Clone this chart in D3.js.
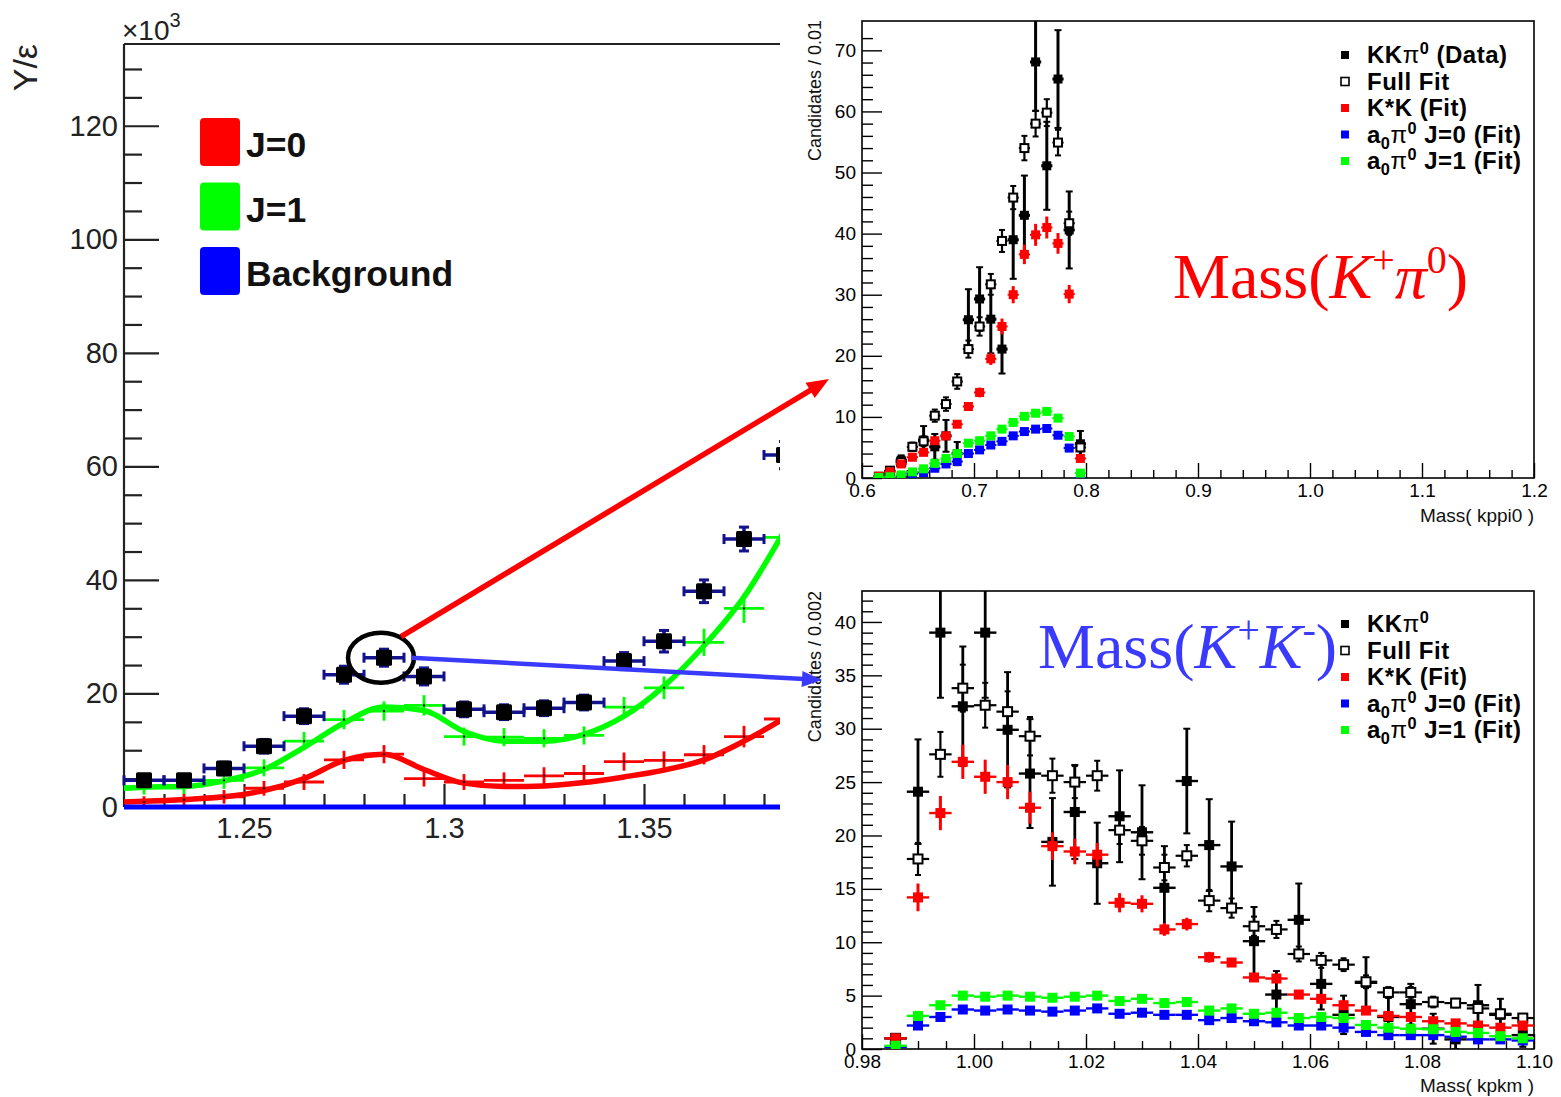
<!DOCTYPE html>
<html><head><meta charset="utf-8">
<script src="https://cdn.jsdelivr.net/npm/d3@7"></script>
<style>
body{margin:0;background:#fff}
svg{display:block}
text{font-family:"Liberation Sans",Arial,Helvetica,sans-serif}
</style>
</head><body>
<svg id="c" width="1561" height="1097"></svg>
<script>
// ---------------- Left panel: yield / efficiency vs mass ----------------
const massBins   = [1.225,1.235,1.245,1.255,1.265,1.275,1.285,1.295,1.305,1.315,1.325,1.335,1.345,1.355,1.365,1.375,1.385];
const yieldData  = [4.7,4.7,6.8,10.7,16.0,23.3,26.3,23.0,17.2,16.7,17.4,18.4,25.7,29.2,38.0,47.2,62.0];
const yieldErr   = [1.0,1.0,1.1,1.2,1.3,1.5,1.5,1.5,1.3,1.3,1.3,1.3,1.5,1.9,2.0,2.1,2.4];
const j0Points   = [0.9,1.3,1.8,3.3,4.4,8.3,9.3,5.0,4.4,4.7,5.5,5.9,8.0,8.2,9.2,12.4,15.5];
const j0Err      = [1.0,1.1,1.2,1.3,1.4,1.6,1.6,1.4,1.4,1.4,1.5,1.5,1.6,1.6,1.7,1.9,2.1];
const j1Points   = [3.6,3.7,4.7,6.9,11.6,15.4,16.9,17.9,12.4,12.3,12.1,12.6,17.6,21.0,29.0,35.0,47.5];
const j1Err      = [1.4,1.4,1.5,1.5,1.6,1.7,1.7,1.8,1.6,1.6,1.6,1.6,1.8,2.0,2.4,2.6,3.0];
const curveMass  = [1.22,1.225,1.235,1.245,1.255,1.265,1.275,1.285,1.295,1.305,1.315,1.325,1.335,1.345,1.355,1.365,1.375,1.385];
const j0Curve    = [0.9,1.0,1.3,1.8,2.9,5.0,8.2,9.3,6.6,4.2,3.6,3.7,4.3,5.3,6.5,8.3,11.6,15.6];
const j1Curve    = [3.3,3.5,3.6,4.6,6.6,10.5,14.8,17.6,17.0,13.3,11.6,11.6,12.8,16.0,21.3,28.4,37.0,48.5];
const bgCurve    = [0,0];
const bgMass     = [1.22,1.40];
const leftYTicks = [0,20,40,60,80,100,120];
const leftXTicks = [1.25,1.3,1.35];
const leftXTickLabels = ["1.25","1.3","1.35"];
const leftLegend = ["J=0","J=1","Background"];
const leftLegendColors = ["#ff0000","#00ff00","#0000ff"];
const highlightBin = 6; // circled point

// ---------------- Top right: Mass(K+ pi0) ----------------
const kpiBins   = [0.615,0.625,0.635,0.645,0.655,0.665,0.675,0.685,0.695,0.705,0.715,0.725,0.735,0.745,0.755,0.765,0.775,0.785,0.795];
const kpiData   = [null,null,2.9,null,6.2,5.1,6.9,4.0,25.9,29.3,26.0,21.1,39.0,43.0,68.1,51.1,65.3,40.6,5.6];
const kpiDataErr= [0,0,0.8,0,2.3,2.1,2.6,1.9,5.0,5.2,5.6,4.0,6.4,6.5,8.0,7.2,8.0,6.3,2.1];
const kpiFull   = [0.2,1.2,2.6,5.1,6.0,10.2,12.1,15.8,21.1,24.8,31.7,38.8,45.9,54.0,58.0,59.8,54.9,41.7,5.0];
const kpiFullErr= [0.1,0.3,0.5,0.7,0.8,1.0,1.1,1.2,1.4,1.5,1.7,1.8,1.9,2.0,2.1,2.2,2.1,1.9,0.6];
const kpiKstar  = [0.3,1.0,2.3,3.4,4.2,6.1,6.9,8.8,11.7,14.0,19.5,24.8,30.0,36.6,39.8,41.0,38.4,30.1,3.2];
const kpiKstarErr=[0.1,0.2,0.3,0.4,0.4,0.5,0.6,0.6,0.7,0.8,1.0,1.3,1.4,1.6,1.8,1.8,1.7,1.5,0.4];
const kpiA0J0   = [0.0,0.0,0.3,0.7,0.9,1.6,2.3,2.7,4.0,4.6,5.4,6.0,6.9,7.6,8.0,8.1,7.0,4.9,0.0];
const kpiA0J1   = [0.1,0.2,0.5,1.0,1.5,2.4,3.2,4.0,5.7,6.1,6.9,8.0,9.1,10.1,10.6,10.9,9.8,6.8,0.8];
const kpiYTicks = [0,10,20,30,40,50,60,70];
const kpiXTicks = [0.6,0.7,0.8,0.9,1.0,1.1,1.2];
const kpiXTickLabels = ["0.6","0.7","0.8","0.9","1.0","1.1","1.2"];

// ---------------- Bottom right: Mass(K+ K-) ----------------
const kkBins    = [0.986,0.990,0.994,0.998,1.002,1.006,1.010,1.014,1.018,1.022,1.026,1.030,1.034,1.038,1.042,1.046,1.050,1.054,1.058,1.062,1.066,1.070,1.074,1.078,1.082,1.086,1.090,1.094,1.098];
const kkData    = [1.0,24.1,39.0,32.1,39.0,29.9,25.8,19.4,22.2,17.4,21.8,20.3,15.1,25.1,19.1,17.1,10.1,5.1,12.1,6.1,3.2,6.2,3.0,4.2,1.9,0.9,4.1,3.2,1.3];
const kkDataErr = [0.4,4.9,6.1,5.6,6.1,5.4,5.1,4.1,4.4,3.8,4.3,4.4,3.9,4.9,4.3,4.2,3.2,2.2,3.4,2.4,1.8,2.4,1.8,1.9,1.4,0.9,1.9,1.5,1.1];
const kkFull    = [1.0,17.8,27.6,33.8,32.2,31.6,29.3,25.6,25.0,25.6,20.5,19.5,17.0,18.1,13.9,13.2,11.5,11.2,8.9,8.3,7.9,6.3,5.3,5.3,4.4,4.3,3.8,3.3,2.9];
const kkFullErr = [0.3,1.5,2.1,2.2,2.1,1.9,1.8,1.6,1.5,1.4,1.3,1.3,1.2,1.0,1.0,0.9,0.9,0.8,0.7,0.7,0.6,0.6,0.5,0.5,0.5,0.4,0.4,0.4,0.3];
const kkKstar   = [1.0,14.2,22.1,26.9,25.5,25.0,22.6,19.0,18.5,18.2,13.7,13.6,11.2,11.7,8.6,8.1,6.7,6.6,5.1,4.7,4.1,3.6,3.1,3.0,2.6,2.4,2.2,2.0,2.2];
const kkKstarErr= [0.3,1.3,1.6,1.6,1.6,1.6,1.5,1.3,1.2,1.1,0.9,0.8,0.6,0.6,0.5,0.4,0.4,0.4,0.3,0.3,0.3,0.3,0.2,0.2,0.2,0.2,0.2,0.2,0.2];
const kkA0J0    = [0.2,2.2,3.0,3.7,3.6,3.7,3.6,3.5,3.6,3.8,3.3,3.4,3.2,3.2,2.7,2.9,2.6,2.5,2.2,2.2,2.0,1.6,1.3,1.3,1.3,1.15,0.9,0.9,0.8];
const kkA0J1    = [0.3,3.1,4.1,5.0,4.9,5.0,4.9,4.8,4.9,5.0,4.5,4.7,4.3,4.4,3.6,3.8,3.3,3.4,2.9,3.0,2.9,2.25,2.0,1.9,1.85,1.6,1.5,1.2,1.0];
const kkYTicks  = [0,5,10,15,20,25,30,35,40];
const kkXTicks  = [0.98,1.00,1.02,1.04,1.06,1.08,1.10];
const kkXTickLabels = ["0.98","1.00","1.02","1.04","1.06","1.08","1.10"];

const svg = d3.select("#c");
const defs = svg.append("defs");

// ======================= LEFT PANEL =======================
const xL = d3.scaleLinear().domain([1.22, 1.40]).range([124, 844]);
const yL = d3.scaleLinear().domain([0, 134.4]).range([807, 44]);
const leftRight = 780;
defs.append("clipPath").attr("id","clipL").append("rect")
  .attr("x",0).attr("y",0).attr("width",leftRight).attr("height",1097);
const gL = svg.append("g").attr("clip-path","url(#clipL)");
const axisCol = "#222";

// y axis (ticks point into the frame)
const yMinorL = d3.range(0,135,5).filter(v => v % 20 !== 0);
gL.append("g").attr("transform","translate(124,0)")
  .call(d3.axisLeft(yL).tickValues(yMinorL).tickSize(-18).tickFormat(""))
  .call(g=>g.select(".domain").remove());
gL.append("g").attr("transform","translate(124,0)")
  .call(d3.axisLeft(yL).tickValues(leftYTicks).tickSize(-35).tickPadding(6).tickFormat(d3.format("d")))
  .call(g=>g.select(".domain").remove());
// x axis
const xMinorL = d3.range(1.23,1.40,0.01).filter(v => Math.abs(v*20 - Math.round(v*20)) > 1e-6);
gL.append("g").attr("transform","translate(0,807)")
  .call(d3.axisBottom(xL).tickValues(xMinorL).tickSize(-13).tickFormat(""))
  .call(g=>g.select(".domain").remove());
gL.append("g").attr("transform","translate(0,807)")
  .call(d3.axisBottom(xL).tickValues(leftXTicks).tickSize(-23).tickPadding(10).tickFormat((d,i)=>leftXTickLabels[i]))
  .call(g=>g.select(".domain").remove());
gL.selectAll(".tick line").attr("stroke",axisCol).attr("stroke-width",2.2);
gL.selectAll(".tick text").attr("fill",axisCol).attr("font-size",29);
// frame: left + top
gL.append("line").attr("x1",124).attr("x2",124).attr("y1",44).attr("y2",807).attr("stroke",axisCol).attr("stroke-width",2.2);
gL.append("line").attr("x1",124).attr("x2",xL.range()[1]).attr("y1",44).attr("y2",44).attr("stroke",axisCol).attr("stroke-width",2.2);

// fit curves with cross markers
const lineL = d3.line().x(d=>xL(d[0])).y(d=>yL(d[1])).curve(d3.curveMonotoneX);
function crossSeries(vals, errs, color){
  const g = gL.append("g").attr("stroke",color).attr("stroke-width",2.8);
  massBins.forEach((m,i)=>{
    g.append("line").attr("x1",xL(m-0.005)).attr("x2",xL(m+0.005)).attr("y1",yL(vals[i])).attr("y2",yL(vals[i]));
    g.append("line").attr("x1",xL(m)).attr("x2",xL(m)).attr("y1",yL(vals[i]-errs[i])).attr("y2",yL(vals[i]+errs[i]));
  });
  gL.append("g").selectAll("rect").data(massBins).join("rect")
    .attr("x",(m)=>xL(m)-1).attr("y",(m,i)=>yL(vals[i])-1).attr("width",2).attr("height",2).attr("fill","#000");
}
gL.append("path").datum(curveMass.map((m,i)=>[m,j0Curve[i]])).attr("d",lineL)
  .attr("fill","none").attr("stroke","#ff0000").attr("stroke-width",5.5);
crossSeries(j0Points, j0Err, "#ff0000");
gL.append("path").datum(curveMass.map((m,i)=>[m,j1Curve[i]])).attr("d",lineL)
  .attr("fill","none").attr("stroke","#00ff00").attr("stroke-width",5.5);
crossSeries(j1Points, j1Err, "#00ff00");
gL.append("path").datum(bgMass.map((m,i)=>[m,bgCurve[i]])).attr("d",d3.line().x(d=>xL(d[0])).y(d=>yL(d[1])))
  .attr("stroke","#0000ff").attr("stroke-width",5);

// measured yields
const navy = "#12128a";
const gD = gL.append("g");
massBins.forEach((m,i)=>{
  const cx = xL(m), cy = yL(yieldData[i]);
  const x0 = xL(m-0.005), x1 = xL(m+0.005);
  const yt = yL(yieldData[i]+yieldErr[i]), yb = yL(yieldData[i]-yieldErr[i]);
  gD.append("line").attr("x1",x0).attr("x2",x1).attr("y1",cy).attr("y2",cy).attr("stroke",navy).attr("stroke-width",3.5);
  gD.append("line").attr("x1",x0).attr("x2",x0).attr("y1",cy-5).attr("y2",cy+5).attr("stroke",navy).attr("stroke-width",3);
  gD.append("line").attr("x1",x1).attr("x2",x1).attr("y1",cy-5).attr("y2",cy+5).attr("stroke",navy).attr("stroke-width",3);
  gD.append("line").attr("x1",cx).attr("x2",cx).attr("y1",yt).attr("y2",yb).attr("stroke",navy).attr("stroke-width",3.5);
  gD.append("line").attr("x1",cx-5).attr("x2",cx+5).attr("y1",yt).attr("y2",yt).attr("stroke",navy).attr("stroke-width",3);
  gD.append("line").attr("x1",cx-5).attr("x2",cx+5).attr("y1",yb).attr("y2",yb).attr("stroke",navy).attr("stroke-width",3);
  gD.append("rect").attr("x",cx-8).attr("y",cy-8).attr("width",16).attr("height",16).attr("fill","#000").attr("rx",1.5);
});

// axis title and exponent
svg.append("text").attr("transform","translate(37,44) rotate(-90)").attr("text-anchor","end")
  .attr("font-size",34).attr("fill",axisCol).text("Y/ε");
const expT = svg.append("text").attr("x",122).attr("y",40).attr("font-size",28).attr("fill",axisCol);
expT.append("tspan").text("×10");
expT.append("tspan").attr("dy",-13).attr("font-size",20).text("3");

// legend
leftLegend.forEach((lab,i)=>{
  const y0 = 118 + i*64.5;
  svg.append("rect").attr("x",200).attr("y",y0).attr("width",40).attr("height",48).attr("rx",4)
    .attr("fill",leftLegendColors[i]);
  svg.append("text").attr("x",246).attr("y",y0+39).attr("font-size",35.5).attr("font-weight","bold")
    .attr("fill","#111").text(lab);
});

// ======================= RIGHT PANELS =======================
function panel(cfg){
  const {x, y, id, yMinor, xMinor, yTicks, xTicks, xLabels, yTitle, xTitle, xTitleY, yTitleTop} = cfg;
  const [l,r] = x.range(); const [b,t] = y.range();
  defs.append("clipPath").attr("id",id).append("rect").attr("x",l).attr("y",t).attr("width",r-l).attr("height",b-t);
  const g = svg.append("g");
  g.append("g").attr("transform",`translate(${l},0)`)
    .call(d3.axisLeft(y).tickValues(yMinor).tickSize(-11).tickFormat(""));
  g.append("g").attr("transform",`translate(${l},0)`)
    .call(d3.axisLeft(y).tickValues(yTicks).tickSize(-20).tickPadding(6).tickFormat(d3.format("d")));
  g.append("g").attr("transform",`translate(0,${b})`)
    .call(d3.axisBottom(x).tickValues(xMinor).tickSize(-8).tickFormat(""));
  g.append("g").attr("transform",`translate(0,${b})`)
    .call(d3.axisBottom(x).tickValues(xTicks).tickSize(-15).tickPadding(6).tickFormat((d,i)=>xLabels[i]));
  g.selectAll(".domain").remove();
  g.selectAll(".tick line").attr("stroke","#000").attr("stroke-width",1.4);
  g.selectAll(".tick text").attr("fill","#000").attr("font-size",19);
  g.append("rect").attr("x",l).attr("y",t).attr("width",r-l).attr("height",b-t)
    .attr("fill","none").attr("stroke","#000").attr("stroke-width",1.6);
  g.append("text").attr("transform",`translate(821,${yTitleTop}) rotate(-90)`).attr("text-anchor","end")
    .attr("font-size",18).attr("fill","#111").text(yTitle);
  g.append("text").attr("x",r).attr("y",xTitleY).attr("text-anchor","end")
    .attr("font-size",19).attr("fill","#111").text(xTitle);
  return svg.append("g").attr("clip-path",`url(#${id})`);
}

function points(g, x, y, bins, vals, errs, half, st){
  const pts = bins.map((c,i)=>({c, v: vals[i], e: errs ? errs[i] : 0})).filter(d=>d.v!=null);
  const s = g.append("g");
  s.selectAll("line.h").data(pts).join("line").attr("class","h")
    .attr("x1",d=>x(d.c-half)).attr("x2",d=>x(d.c+half)).attr("y1",d=>y(d.v)).attr("y2",d=>y(d.v))
    .attr("stroke",st.color).attr("stroke-width",st.hw);
  const ve = pts.filter(d=>d.e>0);
  s.selectAll("line.v").data(ve).join("line").attr("class","v")
    .attr("x1",d=>x(d.c)).attr("x2",d=>x(d.c)).attr("y1",d=>y(d.v+d.e)).attr("y2",d=>y(Math.max(0,d.v-d.e)))
    .attr("stroke",st.color).attr("stroke-width",st.vw);
  if (st.cap){
    ["top","bot"].forEach(k=>{
      s.selectAll("line.c"+k).data(ve).join("line").attr("class","c"+k)
        .attr("x1",d=>x(d.c)-st.cap).attr("x2",d=>x(d.c)+st.cap)
        .attr("y1",d=>y(k==="top"?d.v+d.e:Math.max(0,d.v-d.e))).attr("y2",d=>y(k==="top"?d.v+d.e:Math.max(0,d.v-d.e)))
        .attr("stroke",st.color).attr("stroke-width",2);
    });
  }
  s.selectAll("rect").data(pts).join("rect")
    .attr("x",d=>x(d.c)-st.size/2).attr("y",d=>y(d.v)-st.size/2)
    .attr("width",st.size).attr("height",st.size)
    .attr("fill",st.open ? "#fff" : st.color)
    .attr("stroke",st.open ? st.color : "none").attr("stroke-width",st.open ? 2 : 0);
}

// ---- top right
const xT = d3.scaleLinear().domain([0.6,1.2]).range([862,1534]);
const yT = d3.scaleLinear().domain([0,74.8]).range([478,21]);
const gT = panel({x:xT, y:yT, id:"clipT",
  yMinor:d3.range(2,74,2).filter(v=>v%10!==0), xMinor:d3.range(0.62,1.2,0.02).filter(v=>Math.abs(v*10-Math.round(v*10))>1e-6),
  yTicks:kpiYTicks, xTicks:kpiXTicks, xLabels:kpiXTickLabels,
  yTitle:"Candidates / 0.01", xTitle:"Mass( kppi0 )", xTitleY:522, yTitleTop:20});
points(gT, xT, yT, kpiBins, kpiData, kpiDataErr, 0.005, {color:"#000", hw:3, vw:3, cap:3.5, size:9});
points(gT, xT, yT, kpiBins, kpiFull, kpiFullErr, 0.005, {color:"#000", hw:2, vw:2.2, cap:3, size:8, open:true});
points(gT, xT, yT, kpiBins, kpiKstar, kpiKstarErr, 0.005, {color:"#ff0000", hw:2, vw:3, size:9});
points(gT, xT, yT, kpiBins, kpiA0J0, null, 0.005, {color:"#0000ff", hw:2, vw:2, size:9});
points(gT, xT, yT, kpiBins, kpiA0J1, null, 0.005, {color:"#00ff00", hw:2, vw:2, size:9});

// ---- bottom right
const xB = d3.scaleLinear().domain([0.98,1.10]).range([862,1534]);
const yB = d3.scaleLinear().domain([0,42.9]).range([1049,591]);
const gB = panel({x:xB, y:yB, id:"clipB",
  yMinor:d3.range(1,43,1).filter(v=>v%5!==0), xMinor:d3.range(0.985,1.10,0.005).filter(v=>Math.abs(v*50-Math.round(v*50))>1e-6),
  yTicks:kkYTicks, xTicks:kkXTicks, xLabels:kkXTickLabels,
  yTitle:"Candidates / 0.002", xTitle:"Mass( kpkm )", xTitleY:1092, yTitleTop:591});
points(gB, xB, yB, kkBins, kkData, kkDataErr, 0.002, {color:"#000", hw:2.4, vw:2.8, cap:3.5, size:10});
points(gB, xB, yB, kkBins, kkFull, kkFullErr, 0.002, {color:"#000", hw:2.2, vw:2.2, cap:3, size:9, open:true});
points(gB, xB, yB, kkBins, kkKstar, kkKstarErr, 0.002, {color:"#ff0000", hw:2.4, vw:3, size:10});
points(gB, xB, yB, kkBins, kkA0J0, null, 0.002, {color:"#0000ff", hw:2.4, vw:2, size:10});
points(gB, xB, yB, kkBins, kkA0J1, null, 0.002, {color:"#00ff00", hw:2.4, vw:2, size:10});

// ---- legends
function richText(sel, parts){
  parts.forEach(p=>{
    const ts = sel.append("tspan").text(p.t);
    if (p.sup){ ts.attr("dy",-9).attr("font-size","0.68em"); }
    if (p.sub){ ts.attr("dy",6).attr("font-size","0.68em"); }
    if (p.back){ ts.attr("dy",p.back); }
    if (p.normal) ts.attr("font-weight","normal");
  });
}
const legendParts = {
  data:  [{t:"KK"},{t:"π",normal:true},{t:"0",sup:true},{t:" (Data)",back:9}],
  dataB: [{t:"KK"},{t:"π",normal:true},{t:"0",sup:true}],
  full:  [{t:"Full Fit"}],
  kstar: [{t:"K*K (Fit)"}],
  a0j0:  [{t:"a"},{t:"0",sub:true},{t:"π",normal:true,back:-6},{t:"0",sup:true},{t:" J=0 (Fit)",back:9}],
  a0j1:  [{t:"a"},{t:"0",sub:true},{t:"π",normal:true,back:-6},{t:"0",sup:true},{t:" J=1 (Fit)",back:9}]
};
const legendMarkers = [
  {fill:"#000"},{fill:"#fff",stroke:"#000"},{fill:"#ff0000"},{fill:"#0000ff"},{fill:"#00ff00"}
];
function legend(y0, first){
  const keys = [first,"full","kstar","a0j0","a0j1"];
  keys.forEach((k,i)=>{
    const yc = y0 + i*26.5;
    svg.append("rect").attr("x",1341).attr("y",yc-4).attr("width",8).attr("height",8)
      .attr("fill",legendMarkers[i].fill).attr("stroke",legendMarkers[i].stroke||"none").attr("stroke-width",1.6);
    const t = svg.append("text").attr("x",1367).attr("y",yc+8).attr("font-size",24).attr("font-weight","bold")
      .attr("letter-spacing",0.5).attr("fill","#000");
    richText(t, legendParts[k]);
  });
}
legend(55, "data");
legend(624, "dataB");

// ---- big mass labels
function massLabel(x, y, color, parts){
  const t = svg.append("text").attr("x",x).attr("y",y).attr("font-size",64).attr("fill",color)
    .style("font-family","'Liberation Serif','Times New Roman',serif");
  parts.forEach(p=>{
    const ts = t.append("tspan").text(p.t);
    if (p.it) ts.attr("font-style","italic");
    if (p.sup) ts.attr("dy",-25).attr("font-size",40);
    if (p.back) ts.attr("dy",p.back);
  });
}
massLabel(1173, 298, "#ff0000", [{t:"Mass("},{t:"K",it:true},{t:"+",sup:true},{t:"π",it:true,back:25},{t:"0",sup:true},{t:")",back:25}]);
massLabel(1038, 668, "#3a3aff", [{t:"Mass("},{t:"K",it:true},{t:"+",sup:true},{t:"K",it:true,back:25},{t:"-",sup:true},{t:")",back:25}]);

// ======================= ANNOTATION =======================
const hx = xL(massBins[highlightBin]), hy = yL(yieldData[highlightBin]);
svg.append("ellipse").attr("cx",hx-3).attr("cy",hy).attr("rx",33).attr("ry",25)
  .attr("fill","none").attr("stroke","#000").attr("stroke-width",4.5);
function arrow(x0,y0,x1,y1,color,w,hl,hw){
  const dx=x1-x0, dy=y1-y0, L=Math.hypot(dx,dy), ux=dx/L, uy=dy/L;
  const bx=x1-ux*hl, by=y1-uy*hl;
  svg.append("line").attr("x1",x0).attr("y1",y0).attr("x2",bx+ux*2).attr("y2",by+uy*2).attr("stroke",color).attr("stroke-width",w);
  svg.append("path").attr("d",`M${x1},${y1}L${bx-uy*hw},${by+ux*hw}L${bx+uy*hw},${by-ux*hw}Z`).attr("fill",color);
}
arrow(hx+17, hy-21, 829, 379, "#ff0000", 5.5, 22, 9);
arrow(hx+27, hy, 822, 680, "#3a3aff", 4.5, 20, 8);
</script>
</body></html>
